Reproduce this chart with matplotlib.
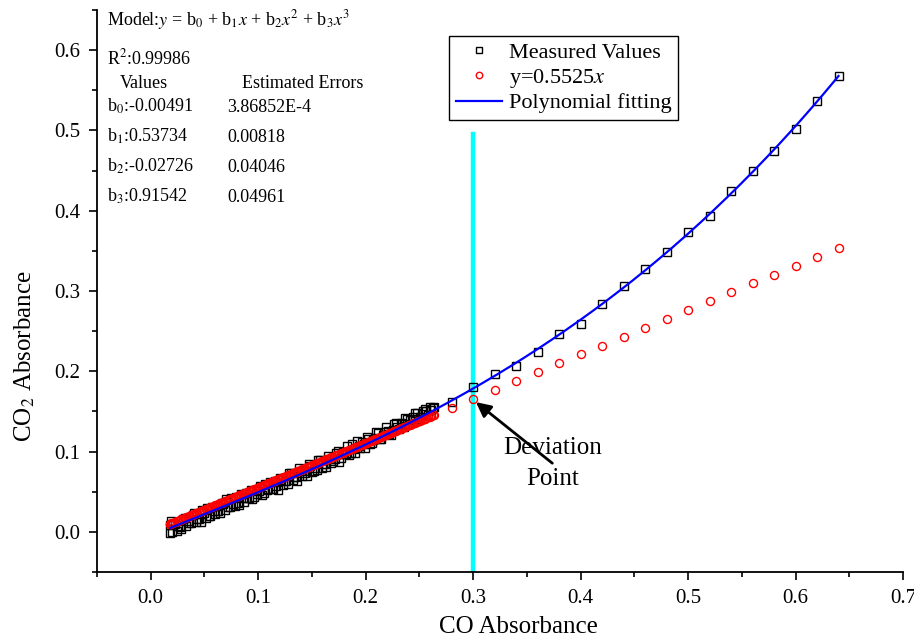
import numpy as np
import matplotlib
matplotlib.use("Agg")
import matplotlib.pyplot as plt
from matplotlib.ticker import MultipleLocator

plt.rcParams['font.family'] = ['Liberation Serif', 'DejaVu Serif']
plt.rcParams['mathtext.fontset'] = 'stix'

# Measured CO / CO2 absorbance pairs: dense low-concentration run (two sweeps) ...
cluster_x = [0.018, 0.018, 0.019, 0.021, 0.024, 0.027, 0.030, 0.033, 0.036, 0.039,
             0.042, 0.045, 0.048, 0.051, 0.054, 0.057, 0.060, 0.063, 0.066, 0.069,
             0.072, 0.075, 0.078, 0.081, 0.084, 0.087, 0.090, 0.093, 0.096, 0.099,
             0.102, 0.105, 0.108, 0.111, 0.114, 0.117, 0.120, 0.123, 0.126, 0.129,
             0.132, 0.135, 0.138, 0.141, 0.144, 0.147, 0.150, 0.153, 0.156, 0.159,
             0.162, 0.165, 0.168, 0.171, 0.174, 0.177, 0.180, 0.183, 0.186, 0.189,
             0.192, 0.195, 0.198, 0.201, 0.204, 0.207, 0.210, 0.213, 0.216, 0.219,
             0.222, 0.225, 0.228, 0.231, 0.234, 0.237, 0.240, 0.243, 0.246, 0.249,
             0.252, 0.255, 0.258, 0.261, 0.264]
cluster_y = [-0.002, 0.008, 0.013, 0.010, 0.001, 0.006, 0.016, 0.007, 0.011, 0.021,
             0.012, 0.016, 0.027, 0.017, 0.020, 0.031, 0.022, 0.026, 0.036, 0.027,
             0.031, 0.042, 0.032, 0.036, 0.047, 0.037, 0.042, 0.052, 0.043, 0.047,
             0.057, 0.048, 0.052, 0.062, 0.053, 0.057, 0.067, 0.058, 0.063, 0.073,
             0.064, 0.068, 0.079, 0.069, 0.073, 0.084, 0.075, 0.079, 0.089, 0.080,
             0.085, 0.095, 0.086, 0.091, 0.101, 0.092, 0.097, 0.107, 0.098, 0.103,
             0.113, 0.104, 0.109, 0.118, 0.110, 0.115, 0.124, 0.116, 0.121, 0.130,
             0.122, 0.127, 0.136, 0.128, 0.134, 0.142, 0.134, 0.141, 0.148, 0.140,
             0.147, 0.153, 0.145, 0.152, 0.156]

cluster2_x = [0.0195, 0.0225, 0.0255, 0.0285, 0.0315, 0.0345, 0.0375, 0.0405, 0.0435,
              0.0465, 0.0495, 0.0525, 0.0555, 0.0585, 0.0615, 0.0645, 0.0675, 0.0705,
              0.0735, 0.0765, 0.0795, 0.0825, 0.0855, 0.0885, 0.0915, 0.0945, 0.0975,
              0.1005, 0.1035, 0.1065, 0.1095, 0.1125, 0.1155, 0.1185, 0.1215, 0.1245,
              0.1275, 0.1305, 0.1335, 0.1365, 0.1395, 0.1425, 0.1455, 0.1485, 0.1515,
              0.1545, 0.1575, 0.1605, 0.1635, 0.1665, 0.1695, 0.1725, 0.1755, 0.1785,
              0.1815, 0.1845, 0.1875, 0.1905, 0.1935, 0.1965, 0.1995, 0.2025, 0.2055,
              0.2085, 0.2115, 0.2145, 0.2175, 0.2205, 0.2235, 0.2265, 0.2295, 0.2325,
              0.2355, 0.2385, 0.2415, 0.2445, 0.2475, 0.2505, 0.2535, 0.2565, 0.2595,
              0.2625]
cluster2_y = [0.000, 0.010, 0.007, 0.003, 0.017, 0.014, 0.011, 0.023, 0.016,
              0.012, 0.024, 0.030, 0.020, 0.026, 0.032, 0.024, 0.035, 0.041,
              0.031, 0.035, 0.043, 0.033, 0.042, 0.049, 0.042, 0.041, 0.052,
              0.051, 0.046, 0.060, 0.053, 0.053, 0.063, 0.052, 0.065, 0.063,
              0.060, 0.073, 0.068, 0.063, 0.076, 0.076, 0.070, 0.082, 0.076,
              0.077, 0.090, 0.085, 0.081, 0.091, 0.088, 0.098, 0.087, 0.099,
              0.097, 0.096, 0.109, 0.098, 0.107, 0.112, 0.105, 0.116, 0.111,
              0.117, 0.123, 0.116, 0.125, 0.126, 0.121, 0.134, 0.130, 0.136,
              0.131, 0.141, 0.139, 0.143, 0.148, 0.143, 0.151, 0.151, 0.156,
              0.154]

# ... and the higher-concentration points
tail_x = [0.28, 0.30, 0.32, 0.34, 0.36, 0.38, 0.40, 0.42, 0.44, 0.46,
          0.48, 0.50, 0.52, 0.54, 0.56, 0.58, 0.60, 0.62, 0.64]
tail_y = [0.162, 0.180, 0.197, 0.207, 0.224, 0.246, 0.259, 0.284, 0.306, 0.327,
          0.349, 0.374, 0.394, 0.425, 0.450, 0.474, 0.502, 0.537, 0.568]

# Linear reference y = 0.5525 x and cubic fit coefficients b0..b3
linear_slope = 0.5525
poly_coef = [-0.00491, 0.53734, -0.02726, 0.91542]
poly_err = ["3.86852E-4", "0.00818", "0.04046", "0.04961"]
r_squared = "0.99986"
deviation_x = 0.30

meas_x = np.array(cluster_x + cluster2_x + tail_x)
meas_y = np.array(cluster_y + cluster2_y + tail_y)
lin_y = linear_slope * meas_x
fit_x = np.linspace(min(meas_x), max(meas_x), 300)
fit_y = sum(c * fit_x ** i for i, c in enumerate(poly_coef))

fig = plt.figure(figsize=(9.14, 6.40), dpi=100)
ax = fig.add_axes([97 / 914, 1 - 572 / 640, 806 / 914, 562 / 640])

ax.axvline(deviation_x, ymin=0, ymax=(0.495 + 0.05) / 0.70, color='#00ffff',
           lw=3.2, zorder=1)
ax.plot(meas_x, meas_y, ls='none', marker='s', ms=5.4, mfc='none', mec='black',
        mew=1.0, zorder=2, label='Measured Values')
ax.plot(meas_x, lin_y, ls='none', marker='o', ms=5.8, mfc='none', mec='#ff0000',
        mew=1.0, zorder=3, label='y=0.5525$x$')
ax.plot(fit_x, fit_y, color='#0000ff', lw=1.6, zorder=4, label='Polynomial fitting')

ax.set_xlim(-0.05, 0.70)
ax.set_ylim(-0.05, 0.65)
ax.xaxis.set_major_locator(MultipleLocator(0.1))
ax.xaxis.set_minor_locator(MultipleLocator(0.05))
ax.yaxis.set_major_locator(MultipleLocator(0.1))
ax.yaxis.set_minor_locator(MultipleLocator(0.05))
ax.xaxis.set_major_formatter(lambda v, p: f"{v:.1f}")
ax.yaxis.set_major_formatter(lambda v, p: f"{v:.1f}")
for s in ('top', 'right'):
    ax.spines[s].set_visible(False)
for s in ('left', 'bottom'):
    ax.spines[s].set_linewidth(1.3)
ax.tick_params(which='major', direction='out', length=6, width=1.2,
               labelsize=15, pad=6)
ax.tick_params(which='minor', direction='out', length=3.5, width=1.2)

fig.text(518 / 914, 1 - 627 / 640, 'CO Absorbance', ha='center', va='center',
         fontsize=18)
fig.text(25 / 914, 1 - 356 / 640, 'CO$_2$ Absorbance', ha='center', va='center',
         rotation=90, fontsize=18)

leg = ax.legend(loc='upper left', bbox_to_anchor=(449 / 914, 1 - 36 / 640),
                bbox_transform=fig.transFigure, fontsize=16, frameon=True,
                fancybox=False, framealpha=1, edgecolor='black',
                handlelength=2.1, handletextpad=0.3, labelspacing=0.15,
                borderpad=0.3, borderaxespad=0, markerscale=0.8)
leg.get_frame().set_linewidth(1.0)

# Fit summary in the upper-left corner
def row(px_baseline):
    return (572 - px_baseline) / 562

tx = (107 - 97) / 806
tx2 = (227 - 97) / 806
fs = 13
ax.text(tx, row(25), 'Model:$y$ = b$_0$ + b$_1$$x$ + b$_2$$x^2$ + b$_3$$x^3$',
        transform=ax.transAxes, fontsize=fs, va='baseline')
ax.text(tx, row(64), 'R$^2$:' + r_squared, transform=ax.transAxes,
        fontsize=fs, va='baseline')
ax.text((120 - 97) / 806, row(88), 'Values', transform=ax.transAxes,
        fontsize=fs, va='baseline')
ax.text((242 - 97) / 806, row(88), 'Estimated Errors', transform=ax.transAxes,
        fontsize=fs, va='baseline')
for i, (c, e) in enumerate(zip(poly_coef, poly_err)):
    base = [112, 142, 172, 202][i]
    ax.text(tx, row(base), f'b$_{i}$:{c:.5f}', transform=ax.transAxes,
            fontsize=fs, va='baseline')
    ax.text(tx2, row(base), e, transform=ax.transAxes, fontsize=fs,
            va='baseline')

ax.annotate('Deviation\nPoint', xy=(0.3026, 0.1616), xytext=(0.3737, 0.0855),
            ha='center', va='center', fontsize=18, linespacing=1.55,
            arrowprops=dict(arrowstyle='-|>', color='black', lw=2,
                            mutation_scale=22, shrinkA=0, shrinkB=0,
                            patchA=None),
            zorder=5)

fig.savefig('out.png', dpi=100)
